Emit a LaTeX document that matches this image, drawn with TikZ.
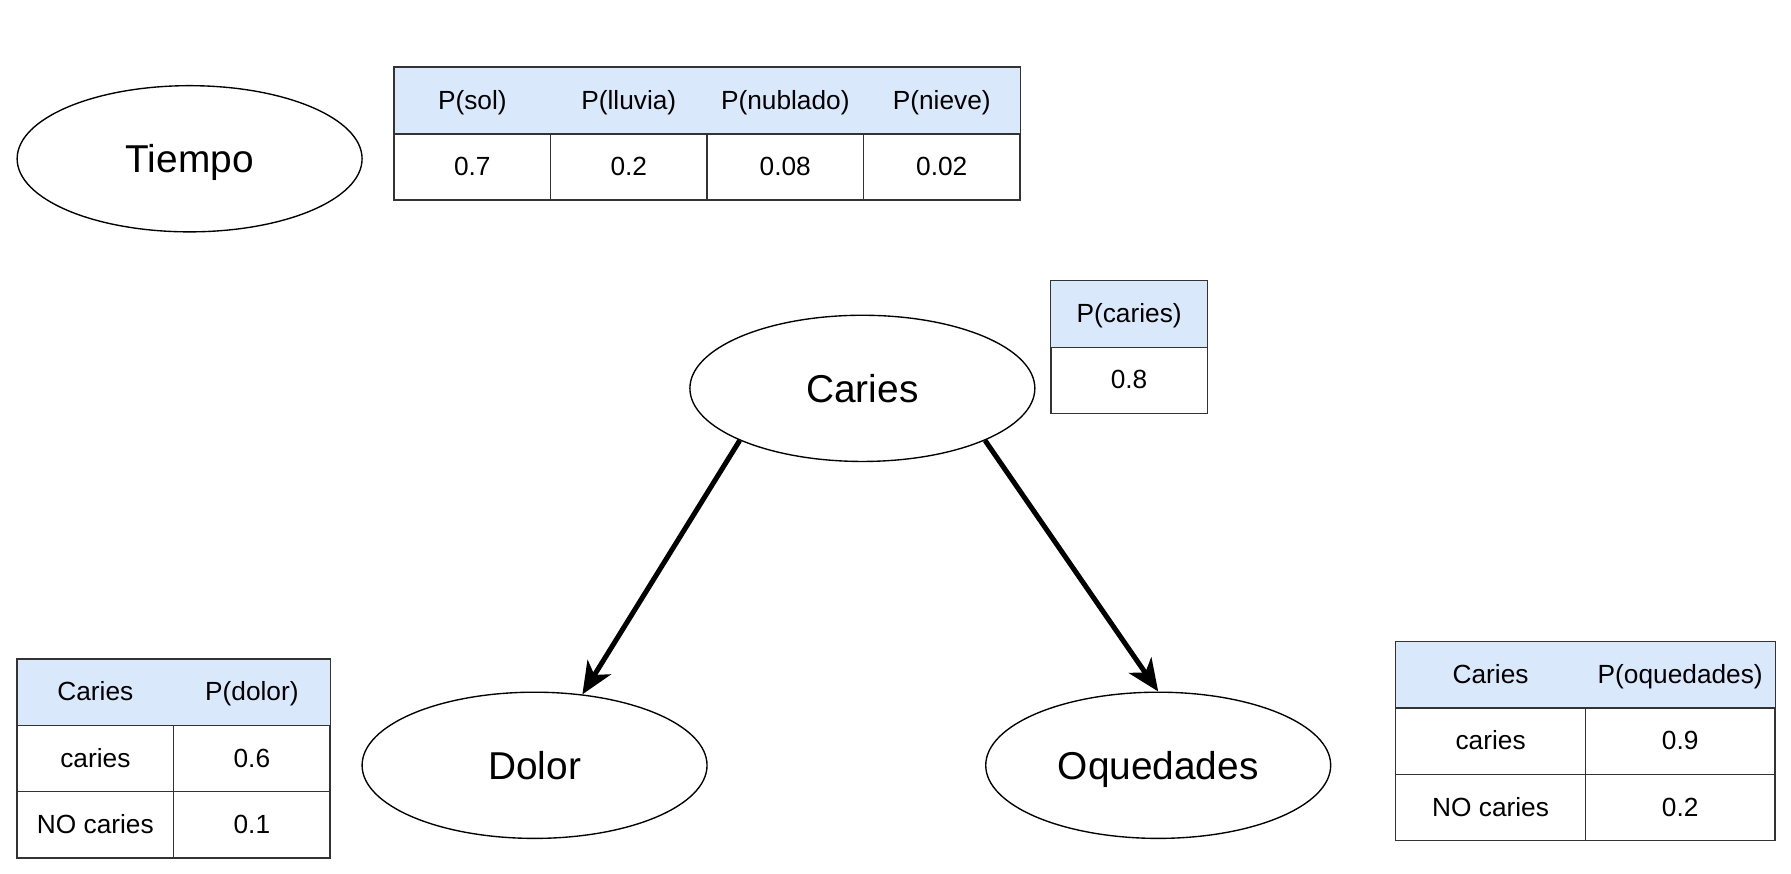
\documentclass[tikz,border=0pt]{standalone}
\usepackage{fontspec}
\setmainfont{Liberation Sans}
\usetikzlibrary{shapes.geometric, arrows.meta}
\definecolor{headblue}{HTML}{DAE8FC}
\definecolor{gridgray}{HTML}{333333}

\begin{document}
\begin{tikzpicture}[x=1pt,y=-1pt]
					\tikzstyle{var} = [ellipse,draw=black,line width=1.2pt,minimum width=302pt,minimum height=128pt,inner sep=0pt,text height=26pt,text depth=2pt,font=\fontsize{34}{40}\selectfont]
					\tikzstyle{head} = [rectangle,fill=headblue,minimum height=58pt,inner sep=0pt,text height=18pt,text depth=3pt,font=\fontsize{23}{28}\selectfont]
					\tikzstyle{cell} = [rectangle,draw=gridgray,line width=1.2pt,minimum height=58pt,inner sep=0pt,text height=18pt,text depth=3pt,font=\fontsize{23}{28}\selectfont]
					\tikzstyle{frame} = [draw=gridgray,line width=1.2pt]
					\tikzstyle{edge} = [-{Stealth[length=28pt,width=24pt,inset=8pt]},line width=4.4pt]
					\useasboundingbox (0,0) rectangle (1568,765);
					% variables
					\node[var] (tiempo) at (166,139) {Tiempo};
					\node[var] (caries) at (755,340) {Caries};
					\node[var] (dolor) at (468,670) {Dolor};
					\node[var] (oqued) at (1014,670) {Oquedades};
					% tabla del tiempo
					\node[head,minimum width=137pt] (ts) at (413.5,88) {P(sol)};
					\node[head,minimum width=137pt] (tl) at (550.5,88) {P(lluvia)};
					\node[head,minimum width=137pt] (tn) at (687.5,88) {P(nublado)};
					\node[head,minimum width=137pt] (tv) at (824.5,88) {P(nieve)};
					\draw[frame] (ts.north west) rectangle (tv.south east);
					\node[cell,minimum width=137pt] (vs) at (413.5,146) {0.7};
					\node[cell,minimum width=137pt] (vl) at (550.5,146) {0.2};
					\node[cell,minimum width=137pt] (vn) at (687.5,146) {0.08};
					\node[cell,minimum width=137pt] (vv) at (824.5,146) {0.02};
					% tabla de caries
					\node[head,minimum width=137pt] (pc) at (988.5,275) {P(caries)};
					\draw[frame] (pc.north west) rectangle (pc.south east);
					\node[cell,minimum width=137pt] (vc) at (988.5,333) {0.8};
					% tabla de dolor
					\node[head,minimum width=137pt] (dh1) at (83.5,606) {Caries};
					\node[head,minimum width=137pt] (dh2) at (220.5,606) {P(dolor)};
					\draw[frame] (dh1.north west) rectangle (dh2.south east);
					\node[cell,minimum width=137pt] (d11) at (83.5,664) {caries};
					\node[cell,minimum width=137pt] (d12) at (220.5,664) {0.6};
					\node[cell,minimum width=137pt] (d21) at (83.5,722) {NO caries};
					\node[cell,minimum width=137pt] (d22) at (220.5,722) {0.1};
					% tabla de oquedades
					\node[head,minimum width=166pt] (oh1) at (1305,591) {Caries};
					\node[head,minimum width=166pt] (oh2) at (1471,591) {P(oquedades)};
					\draw[frame] (oh1.north west) rectangle (oh2.south east);
					\node[cell,minimum width=166pt] (o11) at (1305,649) {caries};
					\node[cell,minimum width=166pt] (o12) at (1471,649) {0.9};
					\node[cell,minimum width=166pt] (o21) at (1305,707) {NO caries};
					\node[cell,minimum width=166pt] (o22) at (1471,707) {0.2};
					% arcos
					\draw[edge] (caries.203)--(dolor.56);
					\draw[edge] (caries.337)--(oqued.90);
					\end{tikzpicture}
\end{document}
